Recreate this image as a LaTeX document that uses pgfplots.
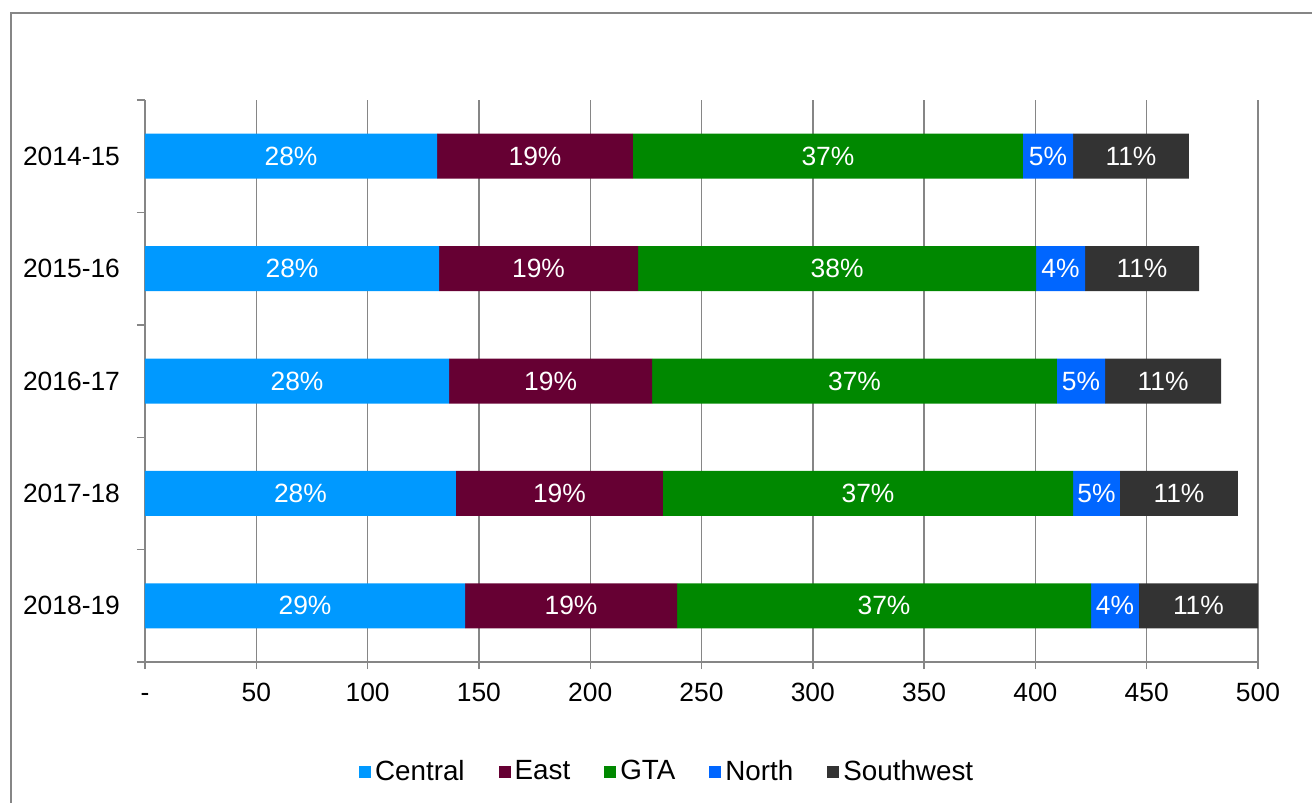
\documentclass[border=0pt]{standalone}
\usepackage{pgfplots}
\pgfplotsset{compat=1.18}
\usepackage{pgfplotstable}
\usepackage{fontspec}
\setmainfont{Liberation Sans}
\definecolor{cCentral}{RGB}{0,153,255}
\definecolor{cEast}{RGB}{102,0,51}
\definecolor{cGTA}{RGB}{0,136,0}
\definecolor{cNorth}{RGB}{0,102,255}
\definecolor{cSW}{RGB}{51,51,51}
\definecolor{gridgray}{RGB}{134,134,134}
\newcommand\ff{\fontsize{13.2pt}{15pt}\selectfont}
\newcommand\lf{\fontsize{13.9pt}{16pt}\selectfont}
\pgfplotstableread{
y c e g n s cl el gl nl sl
0 131.2 88.0 175.2 22.5 52.1 28 19 37 5 11
1 132.1 89.4 178.8 22.0 51.2 28 19 38 4 11
2 136.6 91.2 181.9 21.6 52.1 28 19 37 5 11
3 139.7 93.0 184.2 21.1 53.0 28 19 37 5 11
4 143.8 95.2 186.0 21.5 53.5 29 19 37 4 11
}\datatable
\begin{document}
\begin{tikzpicture}
\path[use as bounding box] (0pt,0pt) rectangle (656pt,-401.5pt);
\draw[gridgray, line width=0.75pt] (5.5pt,-410pt) -- (5.5pt,-6.5pt) -- (670pt,-6.5pt);
\begin{axis}[
  at={(72.5pt,-331pt)}, anchor=south west,
  scale only axis, width=556.5pt, height=281pt,
  xbar stacked, bar width=22.5pt,
  xmin=0, xmax=500, ymin=-0.5, ymax=4.5, y dir=reverse,
  ytick={0,1,2,3,4},
  yticklabels={2014-15,2015-16,2016-17,2017-18,2018-19},
  minor ytick={-0.5,0.5,1.5,2.5,3.5,4.5},
  xtick={0,50,...,500},
  xticklabels={-,50,100,150,200,250,300,350,400,450,500},
  xmajorgrids, grid style={gridgray, line width=0.7pt},
  axis x line*=bottom, axis y line*=left,
  axis line style={gridgray, line width=0.7pt, -},
  tick style={gridgray, line width=0.7pt},
  tick align=outside, major tick length=3.5pt, minor tick length=4pt,
  major y tick style={draw=none},
  ticklabel style={font=\ff, text=black},
  yticklabel style={xshift=-5.5pt},
  xticklabel style={yshift=-3pt, text height=9.6pt, text depth=0pt},
  point meta=explicit symbolic,
  nodes near coords={\pgfplotspointmeta\%},
  every node near coord/.append style={anchor=center, text=white, font=\ff},
  legend style={at={(0.47,-0.195)}, anchor=center, draw=none, fill=none, legend columns=-1,
    font=\lf, /tikz/every even column/.append style={column sep=15pt}},
  legend image code/.code={\fill[#1] (0pt,-3pt) rectangle (6pt,3pt);},
]
\addplot[fill=cCentral, draw=none] table[x=c, y=y, meta=cl] {\datatable};
\addplot[fill=cEast, draw=none] table[x=e, y=y, meta=el] {\datatable};
\addplot[fill=cGTA, draw=none] table[x=g, y=y, meta=gl] {\datatable};
\addplot[fill=cNorth, draw=none] table[x=n, y=y, meta=nl] {\datatable};
\addplot[fill=cSW, draw=none] table[x=s, y=y, meta=sl] {\datatable};
\legend{Central,East,GTA,North,Southwest}
\end{axis}
\end{tikzpicture}
\end{document}
